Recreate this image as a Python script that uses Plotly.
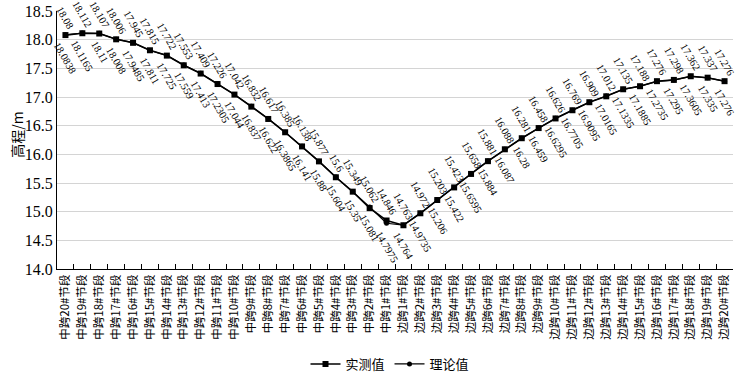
import plotly.graph_objects as go

categories = [f"中跨{i}#节段" for i in range(20, 0, -1)] + [f"边跨{i}#节段" for i in range(1, 21)]

measured = [18.08, 18.112, 18.107, 18.006, 17.945, 17.815, 17.722, 17.553, 17.409, 17.226,
            17.042, 16.832, 16.617, 16.385, 16.138, 15.877, 15.6, 15.349, 15.062, 14.846,
            14.763, 14.972, 15.203, 15.423, 15.658, 15.881, 16.088, 16.281, 16.458, 16.626,
            16.769, 16.909, 17.012, 17.135, 17.188, 17.276, 17.298, 17.362, 17.337, 17.276]

theory = [18.0838, 18.1165, 18.11, 18.008, 17.9485, 17.811, 17.725, 17.559, 17.413, 17.2305,
          17.044, 16.837, 16.622, 16.3865, 16.141, 15.88, 15.604, 15.35, 15.081, 14.7975,
          14.764, 14.9735, 15.206, 15.422, 15.6595, 15.884, 16.087, 16.28, 16.459, 16.6295,
          16.7705, 16.9095, 17.0165, 17.1335, 17.1885, 17.2735, 17.295, 17.3605, 17.335, 17.276]

y_title = "高程/m"

serif = "Liberation Serif"
cjk = "Noto Sans CJK SC"

fig = go.Figure()
fig.add_trace(go.Scatter(x=categories, y=measured, mode="lines+markers", name="实测值",
                         line=dict(color="black", width=1.6),
                         marker=dict(symbol="square", size=6, color="black")))
fig.add_trace(go.Scatter(x=categories, y=theory, mode="lines+markers", name="理论值",
                         line=dict(color="black", width=1.2),
                         marker=dict(symbol="circle", size=5, color="black")))

annotations = []
for c, v in zip(categories, measured):
    annotations.append(dict(x=c, y=v, xref="x", yref="y", text=f"{v:g}", showarrow=False,
                            textangle=60, xanchor="center", yanchor="bottom", yshift=1,
                            font=dict(family=serif, size=10.5, color="black")))
for c, v in zip(categories, theory):
    annotations.append(dict(x=c, y=v, xref="x", yref="y", text=f"{v:g}", showarrow=False,
                            textangle=60, xanchor="center", yanchor="top", yshift=-3,
                            font=dict(family=serif, size=10.5, color="black")))
annotations.append(dict(x=0, y=0.52, xref="paper", yref="paper", text=y_title, showarrow=False,
                        textangle=-90, xanchor="center", yanchor="middle", xshift=-40,
                        font=dict(family=cjk, size=14, color="black")))

fig.update_layout(
    width=746, height=388,
    margin=dict(l=57, r=13, t=11, b=119, autoexpand=False),
    paper_bgcolor="white", plot_bgcolor="white",
    showlegend=True,
    legend=dict(orientation="h", x=0.4926, xanchor="center", y=-0.31, yanchor="top",
                font=dict(family=cjk, size=13, color="black"), itemwidth=30,
                bgcolor="rgba(0,0,0,0)"),
    annotations=annotations,
    xaxis=dict(type="category", range=[-0.5, len(categories) - 0.5], autorange=False,
               showline=True, linecolor="black", linewidth=1,
               tickson="boundaries", ticks="inside", ticklen=5, tickcolor="black",
               tickangle=-90, tickfont=dict(family=cjk, size=11.5, color="black"),
               showgrid=False, mirror=False, automargin=False),
    yaxis=dict(range=[14, 18.5], dtick=0.5, tickformat=".1f", showline=True,
               linecolor="black", linewidth=1, ticks="", showgrid=True,
               gridcolor="#d4d4d4", gridwidth=1, zeroline=False, automargin=False,
               tickfont=dict(family=serif, size=16, color="black")),
)

fig.write_html("out.html", config={"displayModeBar": False},
               post_script="document.body.style.margin='0';")
